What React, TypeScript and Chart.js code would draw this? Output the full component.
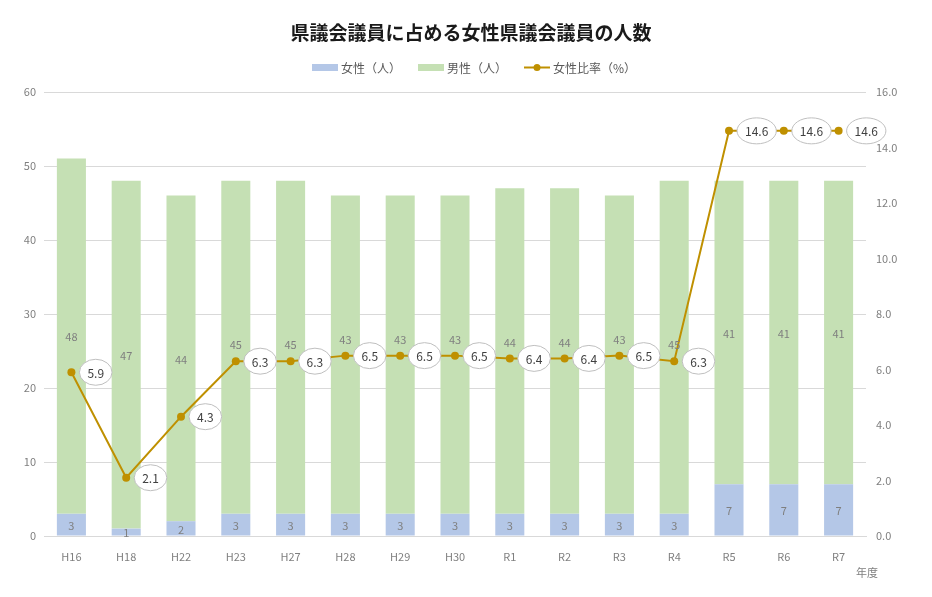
import { useEffect, useRef } from 'react'
import { Chart, registerables } from 'chart.js'

Chart.register(...registerables)

const years = ['H16', 'H18', 'H22', 'H23', 'H27', 'H28', 'H29', 'H30', 'R1', 'R2', 'R3', 'R4', 'R5', 'R6', 'R7']
const women = [3, 1, 2, 3, 3, 3, 3, 3, 3, 3, 3, 3, 7, 7, 7]
const men = [48, 47, 44, 45, 45, 43, 43, 43, 44, 44, 43, 45, 41, 41, 41]
const ratio = [5.9, 2.1, 4.3, 6.3, 6.3, 6.5, 6.5, 6.5, 6.4, 6.4, 6.5, 6.3, 14.6, 14.6, 14.6]

const FONT = '"Noto Sans CJK JP", "Noto Sans", sans-serif'
const BLUE = '#b4c7e7'
const GREEN = '#c5e0b4'
const GOLD = '#bf9000'

// title, legend and value labels drawn by hand
const decorations = {
  id: 'decorations',
  afterDatasetsDraw(chart: Chart) {
    const ctx = chart.ctx
    const lm = chart.getDatasetMeta(2)
    ctx.save()

    // bar value labels (pushed up when they would sit on the line)
    ctx.font = `11px ${FONT}`
    ctx.fillStyle = '#7f7f7f'
    ctx.textAlign = 'center'
    ctx.textBaseline = 'middle'
    for (const di of [0, 1]) {
      const meta = chart.getDatasetMeta(di)
      meta.data.forEach((bar: any, i: number) => {
        const p = bar.getProps(['x', 'y', 'base'], true)
        let y = (p.y + p.base) / 2 + 1
        const ly = (lm.data[i] as any).y
        if (di === 1 && Math.abs(y - ly) < 14) y = ly - 16
        ctx.fillText(String(chart.data.datasets[di].data[i]), p.x, y)
      })
    }

    // ratio callouts
    ctx.font = `12px ${FONT}`
    lm.data.forEach((pt: any, i: number) => {
      const txt = ratio[i].toFixed(1)
      const tw = ctx.measureText(txt).width
      const rx = tw / 2 + 8
      const ry = 13
      const cx = pt.x + 8 + rx
      const cy = pt.y
      ctx.beginPath()
      ctx.ellipse(cx, cy, rx, ry, 0, 0, Math.PI * 2)
      ctx.fillStyle = '#ffffff'
      ctx.fill()
      ctx.strokeStyle = '#bfbfbf'
      ctx.lineWidth = 1
      ctx.stroke()
      ctx.fillStyle = '#404040'
      ctx.fillText(txt, cx, cy + 1)
    })

    // title
    ctx.font = `bold 19px ${FONT}`
    ctx.fillStyle = '#1a1a1a'
    ctx.fillText('県議会議員に占める女性県議会議員の人数', 471, 33)

    // axis caption
    ctx.font = `11px ${FONT}`
    ctx.fillStyle = '#7f7f7f'
    ctx.textAlign = 'left'
    ctx.fillText('年度', 856, 573)

    // legend
    ctx.font = `12px ${FONT}`
    ctx.fillStyle = BLUE
    ctx.fillRect(312, 64, 26, 7)
    ctx.fillStyle = GREEN
    ctx.fillRect(418, 64, 26, 7)
    ctx.strokeStyle = GOLD
    ctx.lineWidth = 2
    ctx.beginPath()
    ctx.moveTo(524, 67.5)
    ctx.lineTo(550, 67.5)
    ctx.stroke()
    ctx.fillStyle = GOLD
    ctx.beginPath()
    ctx.arc(537, 67.5, 3.5, 0, Math.PI * 2)
    ctx.fill()
    ctx.fillStyle = '#595959'
    ctx.fillText('女性（人）', 341, 68)
    ctx.fillText('男性（人）', 447, 68)
    ctx.fillText('女性比率（%）', 553, 68)
    ctx.restore()
  },
}

export default function App() {
  const canvasRef = useRef<HTMLCanvasElement | null>(null)

  useEffect(() => {
    document.body.style.margin = '0'
    if (!canvasRef.current) return
    const chart = new Chart(canvasRef.current, {
      type: 'bar',
      data: {
        labels: years,
        datasets: [
          { label: '女性（人）', data: women, backgroundColor: BLUE, stack: 's', yAxisID: 'y', order: 1, barPercentage: 0.53, categoryPercentage: 1 },
          { label: '男性（人）', data: men, backgroundColor: GREEN, stack: 's', yAxisID: 'y', order: 1, barPercentage: 0.53, categoryPercentage: 1 },
          {
            type: 'line',
            label: '女性比率（%）',
            data: ratio,
            borderColor: GOLD,
            backgroundColor: GOLD,
            borderWidth: 2,
            pointRadius: 4,
            pointBackgroundColor: GOLD,
            pointBorderWidth: 0,
            yAxisID: 'y1',
            order: 0,
          } as any,
        ],
      },
      options: {
        animation: false,
        responsive: false,
        layout: { padding: { top: 92, bottom: 12, left: 0, right: 0 } },
        plugins: { legend: { display: false }, title: { display: false }, tooltip: { enabled: false } },
        scales: {
          x: {
            stacked: true,
            grid: { display: false },
            border: { color: '#d9d9d9' },
            ticks: { color: '#7f7f7f', font: { family: FONT, size: 11 }, padding: 6 },
            afterFit(s: any) { s.height = 49 },
          },
          y: {
            stacked: true,
            min: 0,
            max: 60,
            ticks: { stepSize: 10, color: '#7f7f7f', font: { family: FONT, size: 11 }, padding: 8 },
            grid: { color: '#d9d9d9', drawTicks: false },
            border: { display: false },
            afterFit(s: any) { s.width = 44 },
          },
          y1: {
            position: 'right',
            min: 0,
            max: 16,
            ticks: { stepSize: 2, color: '#7f7f7f', font: { family: FONT, size: 11 }, padding: 10, callback: (v: any) => Number(v).toFixed(1) },
            grid: { display: false, drawTicks: false },
            border: { display: false },
            afterFit(s: any) { s.width = 66 },
          },
        },
      },
      plugins: [decorations],
    })
    return () => chart.destroy()
  }, [])

  return <canvas ref={canvasRef} width={932} height={597} style={{ display: 'block' }} />
}
